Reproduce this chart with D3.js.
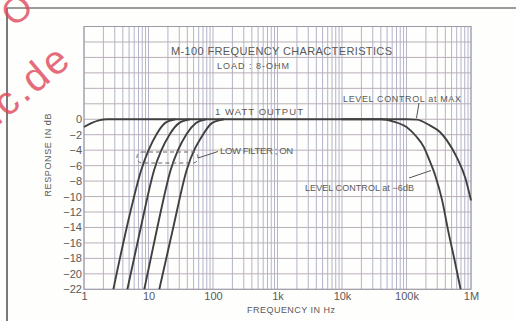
<!DOCTYPE html>
<html>
<head>
<meta charset="utf-8">
<script src="https://cdn.jsdelivr.net/npm/d3@7"></script>
<style>
  html, body { margin: 0; padding: 0; background: #ffffff; }
  #chart { width: 516px; height: 321px; }
  text { font-family: "Liberation Sans", Arial, sans-serif; fill: #5a5a5a; }
</style>
</head>
<body>
<div id="chart"></div>
<script>
/* ── Data ────────────────────────────────────────────────── */
const decadeTicks  = [1, 10, 100, 1e3, 1e4, 1e5, 1e6];
const decadeLabels = ['1', '10', '100', '1k', '10k', '100k', '1M'];
const dbTicks      = [0, -2, -4, -6, -8, -10, -12, -14, -16, -18, -20, -22];

// level control at MAX (1 watt output)
const maxFreq = [1, 1.3, 1.7, 2.3, 1e5, 1.45e5, 2.3e5, 3.3e5, 4.2e5, 6e5, 8.1e5, 1e6];
const maxDb   = [-1.0, -0.5, -0.15, 0, 0, -0.05, -0.8, -1.65, -2.7, -4.9, -7.5, -10.5];

// level control at -6dB
const minus6Freq = [1e4, 4e4, 6.3e4, 1e5, 1.41e5, 1.86e5, 2.24e5, 2.82e5, 3.55e5, 4.47e5, 5.62e5, 6.9e5];
const minus6Db   = [0, 0, -0.3, -1.0, -2.2, -3.6, -5.2, -7.4, -10.4, -14.6, -18.4, -22];

// low filter on (four positions)
const lowFilterDb   = [-22, -14, -6.6, -1.9, -0.5, 0];
const lowFilterFreq = [
  [2.85, 4.6, 7.7, 13.4, 18, 26],
  [4.7, 7.6, 12.2, 21.5, 29.7, 44],
  [8.6, 13.7, 22, 39, 54.5, 78],
  [14.7, 24.2, 39, 71, 96, 148]
];

/* ── Drawing ─────────────────────────────────────────────── */
const W = 516, H = 321;
const svg = d3.select('#chart').append('svg')
  .attr('width', W).attr('height', H);

svg.append('rect').attr('width', W).attr('height', H).attr('fill', '#fefefc');

const x = d3.scaleLog().domain([1, 1e6]).range([84, 471]);
const y = d3.scaleLinear().domain([-22, 12]).range([289.3, 26.5]);

// outer frame (left + top edges of the scan)
svg.append('line').attr('x1', 7).attr('x2', 7).attr('y1', 8).attr('y2', H)
  .attr('stroke', '#7a7a7a').attr('stroke-width', 2);
svg.append('line').attr('x1', 7).attr('x2', W).attr('y1', 8).attr('y2', 8)
  .attr('stroke', '#7a7a7a').attr('stroke-width', 1.6);

// ── Grid ──
const grid = svg.append('g');
const xGrid = x.ticks();
grid.selectAll('.vx').data(xGrid).join('line')
  .attr('x1', d => x(d)).attr('x2', d => x(d))
  .attr('y1', y(12)).attr('y2', y(-22))
  .attr('stroke', '#b4b4cc').attr('stroke-width', 1);
grid.selectAll('.hy').data(d3.range(-22, 13, 2)).join('line')
  .attr('x1', x(1)).attr('x2', x(1e6))
  .attr('y1', d => y(d)).attr('y2', d => y(d))
  .attr('stroke', '#b8aeb8').attr('stroke-width', 1);
grid.append('rect')
  .attr('x', x(1)).attr('y', y(12))
  .attr('width', x(1e6) - x(1)).attr('height', y(-22) - y(12))
  .attr('fill', 'none').attr('stroke', '#9a9aa8').attr('stroke-width', 1);

// ── Axes ──
const axisStyle = g => g
  .call(gg => gg.select('.domain').remove())
  .call(gg => gg.selectAll('.tick line').remove())
  .call(gg => gg.selectAll('.tick text')
    .attr('font-size', 11)
    .attr('fill', '#555'));

svg.append('g')
  .attr('transform', 'translate(82,0)')
  .call(d3.axisLeft(y).tickValues(dbTicks).tickSize(0).tickPadding(0)
    .tickFormat(d => d === 0 ? '0' : '\u2212' + Math.abs(d)))
  .call(axisStyle);

svg.append('g')
  .attr('transform', `translate(0,${y(-22) + 3})`)
  .call(d3.axisBottom(x).tickValues(decadeTicks).tickSize(0).tickPadding(0)
    .tickFormat((d, i) => decadeLabels[i]))
  .call(axisStyle);

svg.append('text')
  .attr('x', 291).attr('y', 313)
  .attr('text-anchor', 'middle').attr('font-size', 9)
  .attr('textLength', 88)
  .text('FREQUENCY IN Hz');

svg.append('text')
  .attr('transform', 'translate(51,155) rotate(-90)')
  .attr('text-anchor', 'middle').attr('font-size', 9)
  .attr('textLength', 83)
  .text('RESPONSE IN dB');

// ── Titles ──
svg.append('text')
  .attr('x', 171).attr('y', 55)
  .attr('font-size', 11).attr('textLength', 221)
  .text('M-100 FREQUENCY CHARACTERISTICS');
svg.append('text')
  .attr('x', 217).attr('y', 68.5)
  .attr('font-size', 9).attr('textLength', 72)
  .text('LOAD : 8-OHM');

// ── Curves ──
const line = d3.line()
  .x(d => x(d[0])).y(d => y(d[1]))
  .curve(d3.curveMonotoneX);

const curves = svg.append('g')
  .attr('fill', 'none').attr('stroke', '#404040')
  .attr('stroke-width', 1.9).attr('stroke-linejoin', 'round');

curves.append('path').attr('d', line(d3.zip(maxFreq, maxDb)));
curves.append('path').attr('d', line(d3.zip(minus6Freq, minus6Db)));
lowFilterFreq.forEach(fs => {
  curves.append('path').attr('d', line(d3.zip(fs, lowFilterDb)));
});

// ── Annotations ──
const ann = svg.append('g');
ann.append('text').attr('x', 215).attr('y', 115)
  .attr('font-size', 9.5).attr('textLength', 88).text('1 WATT OUTPUT');
ann.append('text').attr('x', 343).attr('y', 101.5)
  .attr('font-size', 9).attr('textLength', 118).text('LEVEL CONTROL at MAX');
ann.append('text').attr('x', 305).attr('y', 190.5)
  .attr('font-size', 9).attr('textLength', 109).text('LEVEL CONTROL at \u22126dB');
ann.append('text').attr('x', 220).attr('y', 154)
  .attr('font-size', 9.5).attr('textLength', 73).text('LOW FILTER ; ON');

const lead = ann.append('g').attr('stroke', '#555').attr('stroke-width', 1);
lead.append('line').attr('x1', 419).attr('y1', 103).attr('x2', 416.5).attr('y2', 118);
lead.append('line').attr('x1', 409).attr('y1', 178).attr('x2', 431).attr('y2', 170.5);
lead.append('line').attr('x1', 198).attr('y1', 158).attr('x2', 218).attr('y2', 151.5);

ann.append('rect')
  .attr('x', 137).attr('y', 152).attr('width', 61).attr('height', 11)
  .attr('rx', 5).attr('fill', 'none')
  .attr('stroke', '#666').attr('stroke-width', 1)
  .attr('stroke-dasharray', '4,3');

// ── Watermark (red, scanned) ──
const wm = svg.append('g').attr('opacity', 0.8);
wm.append('text')
  .attr('transform', 'translate(74,62) rotate(-40)')
  .attr('text-anchor', 'end')
  .attr('font-family', 'Liberation Serif, serif')
  .attr('font-size', 40)
  .attr('letter-spacing', 3)
  .style('fill', '#e0485a')
  .text('lc.de');
wm.append('text')
  .attr('transform', 'translate(14,28) rotate(-40)')
  .attr('font-family', 'Liberation Serif, serif')
  .attr('font-size', 36)
  .style('fill', '#e0485a')
  .text('O');
</script>
</body>
</html>
